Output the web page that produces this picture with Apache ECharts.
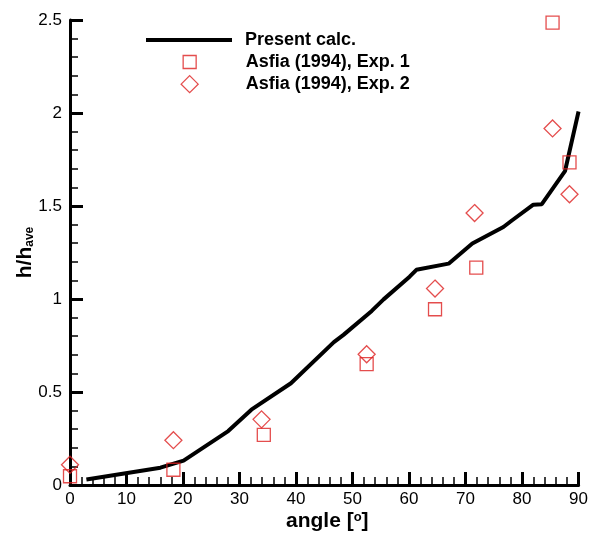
<!DOCTYPE html>
<html>
<head>
<meta charset="utf-8">
<script src="https://cdn.jsdelivr.net/npm/echarts@6/dist/echarts.min.js"></script>
<style>
  html, body { margin: 0; padding: 0; background: #fff; }
  #chart { width: 591px; height: 537px; }
</style>
</head>
<body>
<div id="chart"></div>
<script>
/* h/h_ave vs angle — present calculation vs Asfia (1994) experiments */

// present calc. (angle [deg], h/h_ave)
const calcAngle = [2.9, 16.0, 20.1, 28.0, 32.1, 39.1, 46.7, 48.4, 53.4, 55.5, 60.1, 61.3, 67.0, 71.2, 76.7, 78.2, 82.0, 83.5, 87.6, 90.0];
const calcValue = [0.03, 0.093, 0.131, 0.29, 0.405, 0.547, 0.768, 0.807, 0.936, 0.998, 1.12, 1.157, 1.19, 1.298, 1.387, 1.422, 1.507, 1.51, 1.687, 2.008];

// Asfia (1994), Exp. 1
const exp1Angle = [0, 18.3, 34.3, 52.5, 64.6, 71.9, 85.4, 88.4];
const exp1Value = [0.047, 0.082, 0.27, 0.65, 0.945, 1.169, 2.486, 1.735];

// Asfia (1994), Exp. 2
const exp2Angle = [0, 18.3, 33.9, 52.5, 64.6, 71.6, 85.4, 88.4];
const exp2Value = [0.109, 0.241, 0.353, 0.703, 1.056, 1.462, 1.917, 1.563];

const zip = (xs, ys) => xs.map((x, i) => [x, ys[i]]);

const RED = '#dd2020';
const FONT = 'Liberation Sans, Arial, Helvetica, sans-serif';

// legend text starts at x=245 in every row
const legendText = (padLeft) => ({
  fontFamily: FONT, fontWeight: 'bold', fontSize: 18, color: '#000', padding: [0, 0, 0, padLeft],
});

const chart = echarts.init(document.getElementById('chart'), null, { renderer: 'canvas' });

chart.setOption({
  animation: false,
  backgroundColor: '#fff',
  grid: { left: 70, right: 7, top: 20, bottom: 45, containLabel: false },
  legend: [
    { data: [{ name: 'Present calc.', icon: 'rect', itemStyle: { color: '#000' } }],
      left: 146, top: 31, padding: 0, itemWidth: 86, itemHeight: 4, textStyle: legendText(8) },
    { data: ['Asfia (1994), Exp. 1'], left: 182.5, top: 53, padding: 0,
      itemWidth: 13, itemHeight: 13, itemStyle: { borderWidth: 1.3 }, textStyle: legendText(44.5) },
    { data: ['Asfia (1994), Exp. 2'], left: 180.5, top: 75, padding: 0,
      itemWidth: 17, itemHeight: 17, itemStyle: { borderWidth: 1.3 }, textStyle: legendText(42.5) },
  ],
  xAxis: {
    type: 'value', min: 0, max: 90, interval: 10,
    name: 'angle [{sup|o}]', nameLocation: 'middle', nameGap: 26, nameMoveOverlap: false,
    nameTextStyle: {
      fontFamily: FONT, fontWeight: 'bold', fontSize: 21, color: '#000', padding: [0, 0, 0, 6],
      rich: { sup: { fontFamily: FONT, fontSize: 13, fontWeight: 'bold', color: '#000', verticalAlign: 'top', padding: [0, 0, 8, 0] } },
    },
    axisLine: { onZero: false, lineStyle: { color: '#000', width: 3 } },
    axisTick: { inside: true, length: 13, lineStyle: { color: '#000', width: 3 } },
    minorTick: { show: true, splitNumber: 5, length: 8, lineStyle: { color: '#000', width: 1.5 } },
    axisLabel: { fontFamily: FONT, fontSize: 17, color: '#000', margin: 6 },
    splitLine: { show: false },
  },
  yAxis: {
    type: 'value', min: 0, max: 2.5, interval: 0.5,
    name: '{h|h/h}{s|ave}', nameLocation: 'middle', nameGap: 34, nameRotate: 90, nameMoveOverlap: false,
    nameTextStyle: {
      rich: {
        h: { fontFamily: FONT, fontWeight: 'bold', fontSize: 21, color: '#000' },
        s: { fontFamily: FONT, fontWeight: 'bold', fontSize: 12, color: '#000', verticalAlign: 'bottom', padding: [8, 0, 0, 0] },
      },
    },
    axisLine: { onZero: false, lineStyle: { color: '#000', width: 3 } },
    axisTick: { inside: true, length: 13, lineStyle: { color: '#000', width: 3 } },
    minorTick: { show: true, splitNumber: 5, length: 8, lineStyle: { color: '#000', width: 1.5 } },
    axisLabel: { fontFamily: FONT, fontSize: 17, color: '#000', margin: 8 },
    splitLine: { show: false },
  },
  series: [
    {
      name: 'Present calc.', type: 'line', data: zip(calcAngle, calcValue),
      symbol: 'none', color: '#000',
      lineStyle: { color: '#000', width: 4 },
      z: 2,
    },
    {
      name: 'Asfia (1994), Exp. 1', type: 'scatter', data: zip(exp1Angle, exp1Value),
      symbol: 'rect', symbolSize: 13, color: RED,
      itemStyle: { color: 'rgba(0,0,0,0)', borderColor: RED, borderWidth: 1.3 },
      z: 3,
    },
    {
      name: 'Asfia (1994), Exp. 2', type: 'scatter', data: zip(exp2Angle, exp2Value),
      symbol: 'diamond', symbolSize: 17, color: RED,
      itemStyle: { color: 'rgba(0,0,0,0)', borderColor: RED, borderWidth: 1.3 },
      z: 3,
    },
  ],
});
</script>
</body>
</html>
